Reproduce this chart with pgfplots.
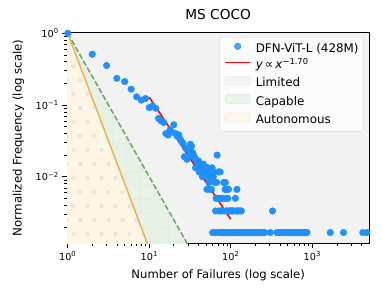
\documentclass[border=0pt]{standalone}
\usepackage{fontspec}
\setmainfont{DejaVu Sans}
\usepackage{pgfplots}
\pgfplotsset{compat=1.18}
\usetikzlibrary{patterns}

\definecolor{dotblue}{HTML}{1E90FF}
\definecolor{limitedgray}{HTML}{F2F2F2}
\definecolor{capgreen}{HTML}{E6F2E6}
\definecolor{autoorange}{HTML}{FFF6E6}
\definecolor{orangeline}{HTML}{E9B552}
\definecolor{greenline}{HTML}{6BA363}

\pgfdeclarepatternformonly{hexcircles}{\pgfqpoint{-1pt}{-1pt}}{\pgfqpoint{15pt}{29pt}}{\pgfqpoint{14pt}{28pt}}{%
  \pgfsetlinewidth{0.8pt}%
  \pgfpathcircle{\pgfqpoint{3.5pt}{7pt}}{1.8pt}%
  \pgfpathcircle{\pgfqpoint{10.5pt}{21pt}}{1.8pt}%
  \pgfusepath{stroke}}
\pgfdeclarepatternformonly{gridlines}{\pgfqpoint{-1pt}{-1pt}}{\pgfqpoint{15pt}{15pt}}{\pgfqpoint{14pt}{14pt}}{%
  \pgfsetlinewidth{0.8pt}%
  \pgfpathmoveto{\pgfqpoint{0pt}{0pt}}\pgfpathlineto{\pgfqpoint{14pt}{0pt}}%
  \pgfpathmoveto{\pgfqpoint{0pt}{0pt}}\pgfpathlineto{\pgfqpoint{0pt}{14pt}}%
  \pgfusepath{stroke}}

\newcommand{\tenpow}[1]{10\textsuperscript{#1}}

\pgfplotsset{
  myline/.style={legend image code/.code={\draw[mark repeat=2,mark phase=2,##1] plot coordinates {(0pt,3pt) (12.5pt,3pt) (25pt,3pt)};}},
  myarea/.style={legend image code/.code={\draw[##1] (0pt,-1.5pt) rectangle (25pt,7.5pt);}},
}

\pgfplotstableread{
x y
1 1
2 0.51
3 0.355
4 0.235
5 0.212
6 0.166
7 0.13
8 0.117
9 0.123
10 0.092
11 0.097
12 0.09
13 0.065
14 0.06
15 0.057
16 0.04
17 0.038
18 0.045
19 0.042
20 0.053
21 0.04
22 0.0367
23 0.0383
24 0.0333
25 0.0308
26 0.0292
27 0.019
28 0.025
29 0.0175
30 0.019
31 0.0233
32 0.0283
33 0.0267
34 0.0217
35 0.02
36 0.0183
37 0.01333
38 0.01667
39 0.015
40 0.01667
41 0.01167
42 0.01333
43 0.015
44 0.01167
45 0.01
46 0.015
47 0.01167
48 0.01333
49 0.01
50 0.01167
51 0.00667
52 0.01333
53 0.01
54 0.00833
55 0.00667
56 0.01167
57 0.01
58 0.00667
59 0.01333
60 0.001667
61 0.01
62 0.01167
63 0.001667
64 0.00833
65 0.003333
66 0.005
67 0.00833
68 0.02
69 0.001667
70 0.005
71 0.01167
72 0.003333
73 0.001667
74 0.01167
75 0.005
76 0.003333
77 0.001667
78 0.005
79 0.001667
80 0.003333
81 0.001667
82 0.00833
83 0.005
84 0.001667
85 0.00667
86 0.00833
87 0.003333
88 0.005
89 0.00667
90 0.003333
91 0.001667
92 0.005
93 0.001667
94 0.00667
95 0.003333
96 0.001667
97 0.003333
98 0.001667
99 0.001667
100 0.003333
101 0.001667
102 0.001667
103 0.003333
104 0.001667
105 0.001667
106 0.003333
107 0.001667
108 0.001667
110 0.003333
111 0.001667
112 0.001667
114 0.005
115 0.001667
117 0.003333
118 0.001667
119 0.00667
121 0.003333
122 0.001667
124 0.001667
125 0.003333
127 0.001667
130 0.003333
132 0.001667
135 0.003333
138 0.001667
142 0.001667
146 0.001667
150 0.001667
155 0.001667
160 0.001667
165 0.001667
171 0.001667
176 0.001667
182 0.001667
188 0.001667
194 0.001667
200 0.001667
207 0.001667
214 0.001667
221 0.001667
228 0.001667
236 0.001667
244 0.001667
252 0.001667
260 0.001667
305 0.001667
325 0.003333
369 0.001667
380 0.001667
392 0.001667
404 0.001667
417 0.001667
430 0.001667
444 0.001667
458 0.001667
473 0.001667
488 0.001667
504 0.001667
520 0.001667
537 0.001667
554 0.001667
572 0.001667
590 0.001667
609 0.001667
629 0.001667
649 0.001667
670 0.001667
692 0.001667
714 0.001667
737 0.001667
761 0.001667
785 0.001667
810 0.001667
835 0.001667
860 0.001667
1660 0.001667
2410 0.001667
4160 0.001667
4660 0.001667
}\coco

\begin{document}
\begin{tikzpicture}
\useasboundingbox (-67pt,-53.7pt) rectangle (315pt,243.3pt);
\begin{axis}[
  scale only axis, width=302.3pt, height=211pt,
  xmode=log, ymode=log,
  xmin=0.98, xmax=5000, ymin=0.00118, ymax=1.03,
  axis background/.style={fill=limitedgray},
  axis line style={line width=0.9pt},
  xtick={1,10,100,1000},
  xticklabels={\tenpow{0},\tenpow{1},\tenpow{2},\tenpow{3}},
  ytick={0.01,0.1,1},
  yticklabels={\tenpow{−2},\tenpow{−1},\tenpow{0}},
  minor xtick={2,3,4,5,6,7,8,9,20,30,40,50,60,70,80,90,200,300,400,500,600,700,800,900,2000,3000,4000},
  minor ytick={0.002,0.003,0.004,0.005,0.006,0.007,0.008,0.009,0.02,0.03,0.04,0.05,0.06,0.07,0.08,0.09,0.2,0.3,0.4,0.5,0.6,0.7,0.8,0.9},
  tick align=outside, xtick pos=left, ytick pos=left,
  major tick length=4.9pt, minor tick length=2.8pt,
  every tick/.style={black, line width=0.8pt},
  minor tick style={line width=0.6pt},
  tick label style={font=\fontsize{9.7}{11}\selectfont},
  xlabel={Number of Failures (log scale)},
  ylabel={Normalized Frequency (log scale)},
  xlabel style={font=\fontsize{11.6}{13}\selectfont, at={(axis description cs:0.5,-0.150)}, anchor=center},
  ylabel style={font=\fontsize{11.8}{13}\selectfont, at={(axis description cs:-0.161,0.5)}, anchor=center},
  title={MS COCO},
  title style={font=\fontsize{13.7}{15}\selectfont, at={(axis description cs:0.5,1.058)}, anchor=center},
  legend cell align=left,
  legend style={at={(axis description cs:1,1)}, anchor=north east, xshift=-6pt, yshift=-5pt,
    draw=black!15, fill=white, fill opacity=0.8, draw opacity=1, text opacity=1,
    rounded corners=2pt, font=\fontsize{11.9}{13}\selectfont,
    nodes={inner sep=0pt, text height=8.4pt, text depth=2.5pt},
    inner xsep=4.5pt, inner ysep=5.5pt, row sep=5.2pt,
    /tikz/every odd column/.append style={column sep=4.8pt}},
]
\addlegendimage{only marks, mark=*, mark size=3.3pt, color=dotblue, myline}
\addlegendentry{DFN-ViT-L (428M)}
\addlegendimage{red, line width=1.6pt, myline}
\addlegendentry{\textit{y}\,∝\,\textit{x}\textsuperscript{−1.70}}
\addlegendimage{fill=limitedgray, draw=black!12, myarea}
\addlegendentry{Limited}
\addlegendimage{fill=capgreen, draw=black!12, myarea}
\addlegendentry{Capable}
\addlegendimage{fill=autoorange, draw=black!12, myarea}
\addlegendentry{Autonomous}

% Capable region (between x^-3 and x^-2)
\addplot[draw=none, fill=capgreen, forget plot] coordinates {(1,1) (31.62,0.001) (10,0.001) (1,1)};
\addplot[draw=none, pattern=gridlines, pattern color=black!9, forget plot] coordinates {(1,1) (31.62,0.001) (10,0.001) (1,1)};
% Autonomous region (below x^-3)
\addplot[draw=none, fill=autoorange, forget plot] coordinates {(0.9,1.05) (1,1) (10,0.001) (0.9,0.001) (0.9,1.05)};
\addplot[draw=none, pattern=hexcircles, pattern color=black!13, forget plot] coordinates {(0.9,1.05) (1,1) (10,0.001) (0.9,0.001) (0.9,1.05)};
% boundaries
\addplot[greenline, line width=1.5pt, dash pattern=on 5.5pt off 2.4pt, forget plot] coordinates {(1,1) (31.62,0.001)};
\addplot[orangeline, line width=1.5pt, forget plot] coordinates {(1,1) (10,0.001)};
% data
\addplot[only marks, mark=*, mark size=3.3pt, color=dotblue, forget plot] table[x=x, y=y] {\coco};
% fit
\addplot[red, line width=1.6pt, forget plot] coordinates {(10,0.128) (100,0.00255)};
\end{axis}
\end{tikzpicture}
\end{document}
